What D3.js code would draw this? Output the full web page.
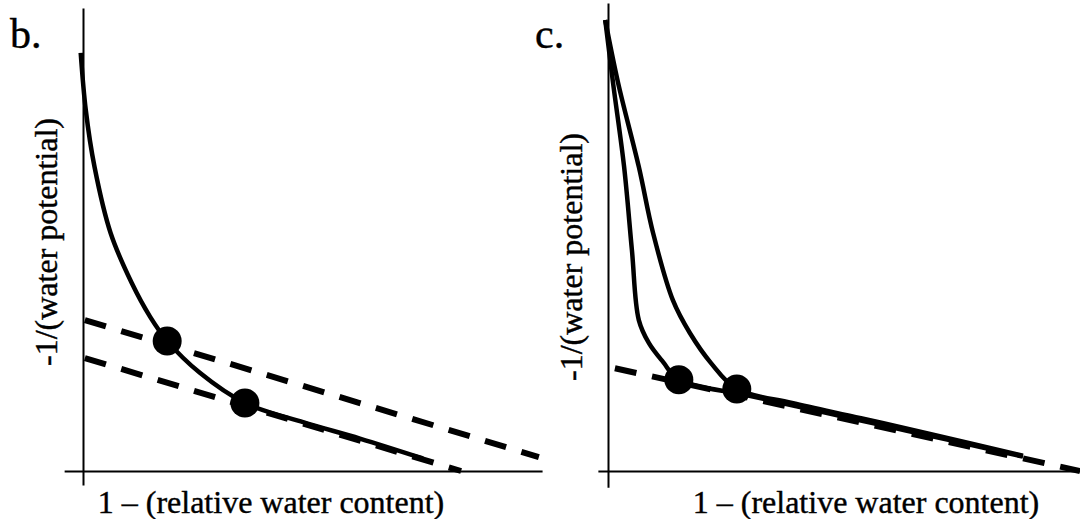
<!DOCTYPE html>
<html>
<head>
<meta charset="utf-8">
<script src="https://cdn.jsdelivr.net/npm/d3@7"></script>
<style>
  html, body { margin: 0; background: #fff; }
  svg { display: block; }
</style>
</head>
<body>
<svg id="chart" width="1080" height="519"></svg>
<script>
// Arbitrary units: x = 1 - relative water content, y = -1/water potential (0..100)

// Panel b: one curve and two parallel linear extrapolations
const bCurve = [[-0.5, 90.3], [0.6, 78.0], [2.5, 65.7], [6.0, 51.4], [10.6, 40.6], [14.6, 33.3],
                [18.3, 28.1], [25.4, 21.2], [35.2, 14.7], [48.0, 10.5], [60.2, 7.0], [73.9, 2.7]];
const bUpperLine = [[0.4, 32.6], [99.1, 3.0]];
const bLowerLine = [[0.4, 24.4], [82.2, 0.0]];
const bPoints = [[18.3, 28.1], [35.2, 14.7]];

// Panel c: two curves sharing one linear extrapolation
const cCurveInner = [[-0.6, 97.4], [1.1, 83.8], [3.5, 65.7], [5.2, 47.7], [6.7, 32.6], [8.9, 27.6],
                     [12.0, 23.5], [15.4, 19.7], [30.0, 16.4], [45.0, 13.1], [60.0, 9.8], [75.0, 6.5], [90.2, 3.1]];
const cCurveOuter = [[-0.6, 97.4], [2.2, 83.8], [6.7, 65.7], [9.8, 51.4], [14.1, 36.9], [17.8, 29.8],
                     [22.4, 23.3], [28.0, 17.7], [40.0, 14.7], [55.0, 11.4], [70.0, 8.0], [90.2, 3.3]];
const cLine = [[1.5, 22.2], [102.6, 0.0]];
const cPoints = [[15.4, 19.7], [28.0, 17.7]];

const xLabel = "1 \u2013 (relative water content)";
const yLabel = "-1/(water potential)";
const serif = "Liberation Serif, DejaVu Serif";

const svg = d3.select("#chart");

function panel(opts) {
  const x = d3.scaleLinear().domain([0, 100]).range([opts.x0, opts.x0 + 460]);
  const y = d3.scaleLinear().domain([0, 100]).range([471, 8]);
  const g = svg.append("g");

  const line = d3.line().x(d => x(d[0])).y(d => y(d[1]));
  const smooth = d3.line().x(d => x(d[0])).y(d => y(d[1])).curve(d3.curveCatmullRom.alpha(0.5));

  // axes: bare lines without ticks, overshooting the origin a little
  const xAxisScale = d3.scaleLinear().domain(opts.xAxisExtent).range(opts.xAxisExtent.map(x));
  const yAxisScale = d3.scaleLinear().domain(opts.yAxisExtent).range(opts.yAxisExtent.map(y));
  g.append("g").attr("transform", `translate(0,${y(0)})`)
    .call(d3.axisBottom(xAxisScale).tickValues([]).tickSizeOuter(0))
    .select(".domain").attr("stroke", "#000").attr("stroke-width", 2);
  g.append("g").attr("transform", `translate(${x(0)},0)`)
    .call(d3.axisLeft(yAxisScale).tickValues([]).tickSizeOuter(0))
    .select(".domain").attr("stroke", "#000").attr("stroke-width", 2);

  // linear extrapolations
  g.selectAll("path.fit").data(opts.lines).join("path")
    .attr("class", "fit")
    .attr("d", line)
    .attr("fill", "none").attr("stroke", "#000")
    .attr("stroke-width", 6).attr("stroke-dasharray", "22,16");

  // curves
  g.selectAll("path.curve").data(opts.curves).join("path")
    .attr("class", "curve")
    .attr("d", smooth)
    .attr("fill", "none").attr("stroke", "#000")
    .attr("stroke-width", 4.5).attr("stroke-linecap", "butt").attr("stroke-linejoin", "round");

  // turgor loss points
  g.selectAll("circle").data(opts.points).join("circle")
    .attr("cx", d => x(d[0])).attr("cy", d => y(d[1])).attr("r", 14.5).attr("fill", "#000");

  // labels (a hairline stroke gives the print-weight look)
  const label = sel => sel.style("font-family", serif).attr("fill", "#000")
    .attr("stroke", "#000").attr("stroke-width", 0.4);
  g.append("text").attr("x", opts.tagX).attr("y", 48).attr("font-size", 42)
    .call(label).text(opts.tag);
  g.append("text").attr("x", opts.xLabelX).attr("y", 513).attr("text-anchor", "middle")
    .attr("font-size", 32).call(label).text(xLabel);
  g.append("text").attr("transform", `translate(${x(0) - 26},${opts.yLabelY}) rotate(-90)`)
    .attr("text-anchor", "middle").attr("font-size", 32).call(label).text(yLabel);
}

panel({
  x0: 83, tag: "b.", tagX: 10, xLabelX: 271, yLabelY: 242,
  xAxisExtent: [-4.1, 99.8], yAxisExtent: [-3.0, 100],
  lines: [bUpperLine, bLowerLine], curves: [bCurve], points: bPoints
});

panel({
  x0: 608, tag: "c.", tagX: 535, xLabelX: 866, yLabelY: 257,
  xAxisExtent: [-2.2, 102.6], yAxisExtent: [-3.5, 101.1],
  lines: [cLine], curves: [cCurveInner, cCurveOuter], points: cPoints
});
</script>
</body>
</html>
